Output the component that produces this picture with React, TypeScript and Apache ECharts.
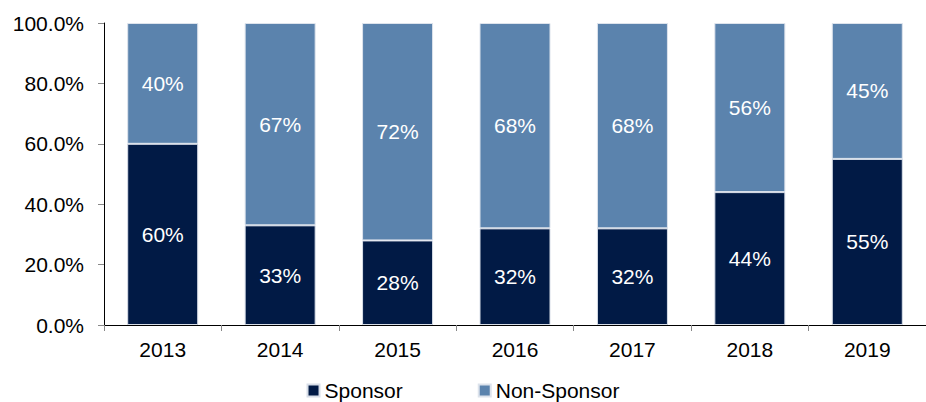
import React, { useEffect, useRef } from "react";
import * as echarts from "echarts";

const years = ["2013", "2014", "2015", "2016", "2017", "2018", "2019"];
const sponsor = [60, 33, 28, 32, 32, 44, 55];
const nonSponsor = [40, 67, 72, 68, 68, 56, 45];
const yTicks = [0, 20, 40, 60, 80, 100];

const FONT = "'Liberation Sans', Arial, sans-serif";

export default function App() {
  const ref = useRef<HTMLDivElement>(null);
  useEffect(() => {
    if (!ref.current) return;
    const chart = echarts.init(ref.current, undefined, { renderer: "svg" });
    const labelStyle = {
      show: true,
      position: "inside",
      color: "#ffffff",
      fontSize: 21,
      fontFamily: FONT,
      formatter: (p: any) => `${p.value}%`,
    };
    chart.setOption({
      animation: false,
      textStyle: { fontFamily: FONT },
      grid: { left: 104, right: -5, top: 23, bottom: 77, containLabel: false },
      legend: {
        bottom: -4,
        left: "center",
        itemWidth: 12,
        itemHeight: 12,
        itemGap: 75,
        icon: "rect",
        textStyle: { fontSize: 21, color: "#000", fontFamily: FONT },
        data: ["Sponsor", "Non-Sponsor"],
      },
      xAxis: {
        type: "category",
        data: years,
        axisLine: { lineStyle: { color: "#000", width: 1 } },
        axisTick: { show: true, length: 6, lineStyle: { color: "#888" } },
        axisLabel: { color: "#000", fontSize: 21, fontFamily: FONT, margin: 14 },
      },
      yAxis: {
        type: "value",
        min: yTicks[0],
        max: yTicks[yTicks.length - 1],
        interval: 20,
        splitLine: { show: false },
        axisLine: { show: true, lineStyle: { color: "#000", width: 1 } },
        axisTick: { show: true, length: 6, lineStyle: { color: "#888" } },
        axisLabel: {
          color: "#000",
          fontSize: 21,
          fontFamily: FONT,
          margin: 20,
          formatter: (v: number) => `${v.toFixed(1)}%`,
        },
      },
      series: [
        {
          name: "Sponsor",
          type: "bar",
          stack: "total",
          barWidth: 71,
          data: sponsor,
          itemStyle: { color: "#011a45", borderColor: "#d8dee8", borderWidth: 1 },
          label: labelStyle,
        },
        {
          name: "Non-Sponsor",
          type: "bar",
          stack: "total",
          barWidth: 71,
          data: nonSponsor,
          itemStyle: { color: "#5b83ad", borderColor: "#dde3ec", borderWidth: 1 },
          label: labelStyle,
        },
      ],
    });
    return () => chart.dispose();
  }, []);
  return <div ref={ref} style={{ width: 926, height: 402, position: "absolute", left: 0, top: 0 }} />;
}
